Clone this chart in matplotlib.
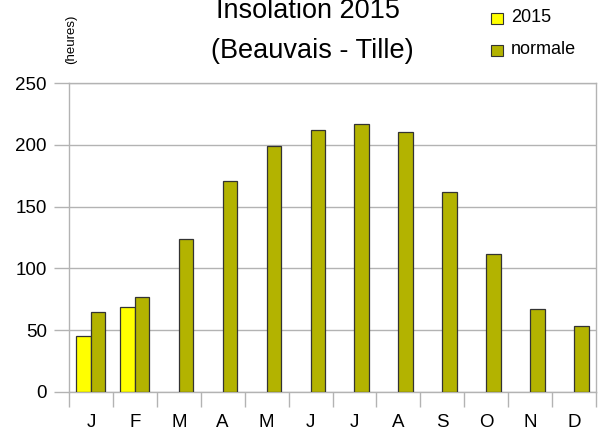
import numpy as np
import matplotlib
matplotlib.use("Agg")
import matplotlib.pyplot as plt
from matplotlib.patches import Rectangle

plt.rcParams['font.family'] = ['Liberation Sans', 'DejaVu Sans']

mois = ['J', 'F', 'M', 'A', 'M', 'J', 'J', 'A', 'S', 'O', 'N', 'D']
ins_2015 = [45, 69]
normale = [65, 77, 124, 171, 199, 212, 217, 210, 162, 112, 67, 53]

jaune = '#ffff00'
olive = '#b3b300'
gris = '#b3b3b3'

fig = plt.figure(figsize=(6.02, 4.37), dpi=100)
ax = fig.add_axes([69/602, 45/437, 527/602, 309/437])

x = np.arange(len(mois))
w = 0.33
ax.bar(x[:len(ins_2015)] - w/2, ins_2015, w, color=jaune, edgecolor='#333333', linewidth=0.9, zorder=3)
ax.bar(x + w/2, normale, w, color=olive, edgecolor='#333333', linewidth=0.9, zorder=3)

ax.set_xlim(-0.5, 11.5)
ax.set_ylim(0, 250)
ax.set_yticks(range(0, 251, 50))
ax.yaxis.grid(True, color=gris, linewidth=1)
ax.set_axisbelow(True)

ax.set_xticks(x)
ax.set_xticklabels(mois)
ax.set_xticks(np.arange(-0.5, 12, 1), minor=True)
ax.tick_params(axis='x', which='major', length=0, pad=16, labelsize=13.5)
ax.tick_params(axis='x', which='minor', length=11, color=gris, width=1)
ax.tick_params(axis='y', length=11, color=gris, width=1, labelsize=13.5, pad=5)

for s in ax.spines.values():
    s.set_color(gris)
    s.set_linewidth(1)

fig.text(308/602, 1 - 18/437, 'Insolation 2015', ha='center', va='baseline', fontsize=19.5)
fig.text(312/602, 1 - 58/437, '(Beauvais - Tille)', ha='center', va='baseline', fontsize=19.5)
fig.text(71/602, 1 - 39/437, '(heures)', rotation=90, ha='center', va='center', fontsize=9.5)

# légende
for i, (lab, c) in enumerate([('2015', jaune), ('normale', olive)]):
    yy = 1 - (18 + i * 32) / 437
    fig.patches.append(Rectangle((491/602, yy - 6/437), 12/602, 11/437,
                                 transform=fig.transFigure, facecolor=c,
                                 edgecolor='#333333', linewidth=0.8))
    fig.text(511/602, yy, lab, ha='left', va='center', fontsize=13)

fig.savefig('out.png', dpi=100)
